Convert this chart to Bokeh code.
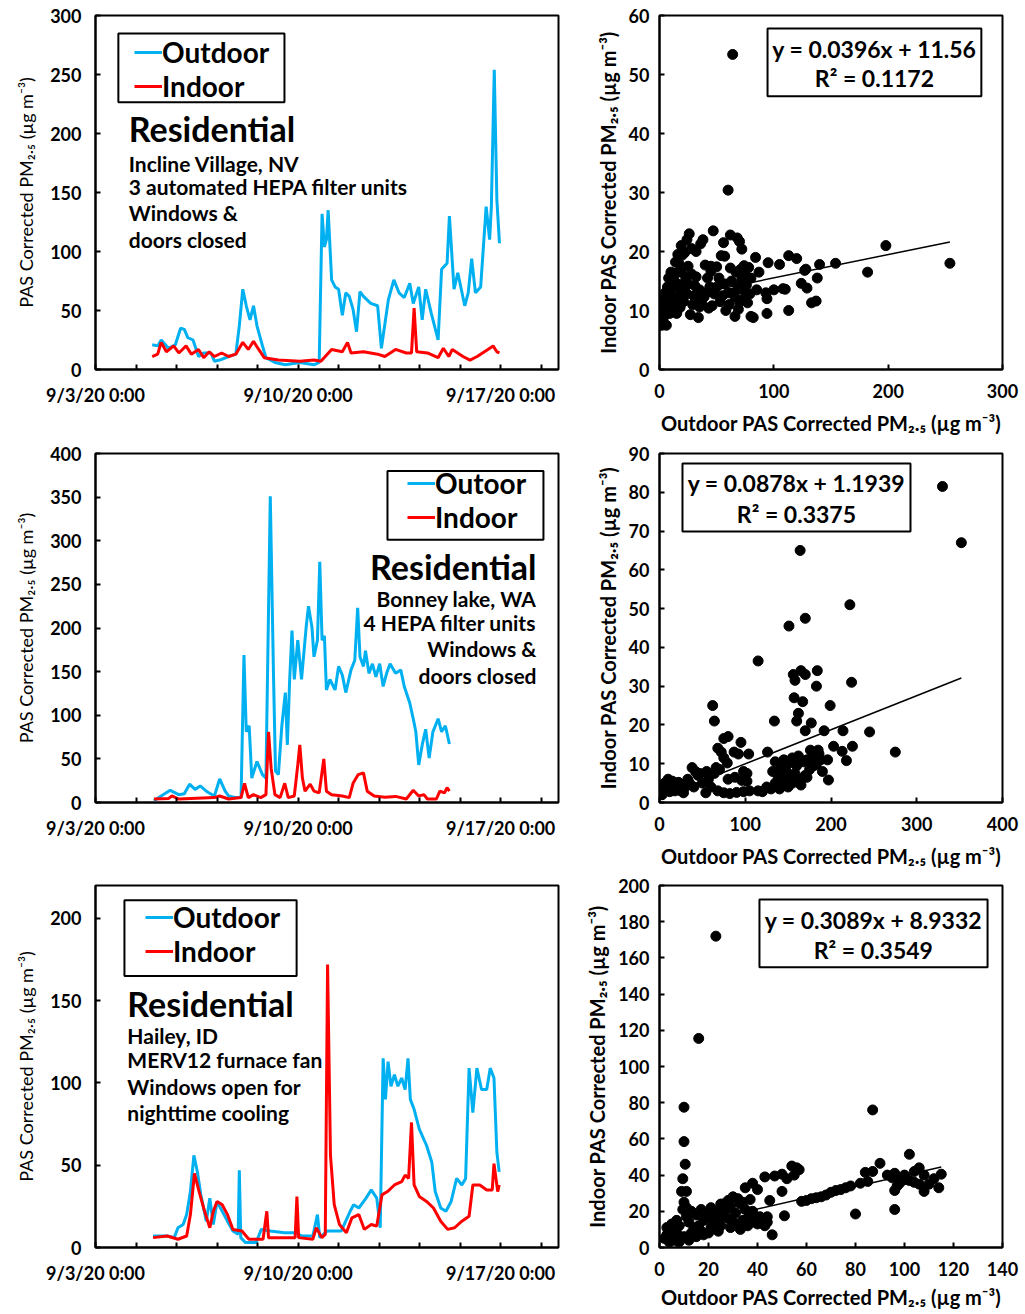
from bokeh.plotting import figure
from bokeh.layouts import column, row
from bokeh.models import FixedTicker, Range1d, Label, BoxAnnotation, Legend, LegendItem
from bokeh.embed import file_html
from bokeh.resources import INLINE

FONT = "Lato"
BLUE = "#00B0F0"
RED = "#FF0000"

# ---------------- time axis (days after 9/3/20 0:00) ----------------
date_ticks = [0, 7, 14]
date_labels = ["9/3/20 0:00", "9/10/20 0:00", "9/17/20 0:00"]
minor_date_ticks = [1.4, 2.8, 4.2, 5.6, 8.4, 9.8, 11.2, 12.6, 15.4]

# ---------------- Panel A: Incline Village, NV ----------------
a_out_t = [1.96, 2.15, 2.27, 2.52, 2.76, 2.94, 3.07, 3.19, 3.37, 3.56, 3.74, 3.99, 4.11, 4.29, 4.6,
           4.85, 4.97, 5.09, 5.21, 5.34, 5.46, 5.58, 5.77, 5.89, 6.2, 6.56, 7.06, 7.55, 7.73, 7.83,
           7.91, 7.98, 8.04, 8.16, 8.28, 8.4, 8.53, 8.65, 8.77, 8.9, 9.02, 9.14, 9.26, 9.51, 9.75,
           9.88, 10.12, 10.31, 10.49, 10.67, 10.86, 10.98, 11.17, 11.29, 11.41, 11.6, 11.84, 11.96, 12.15, 12.23,
           12.39, 12.52, 12.64, 12.76, 12.88, 13.0, 13.13, 13.31, 13.5, 13.62, 13.68, 13.78, 13.87, 13.96]
a_out_v = [21, 20, 25, 18, 21, 35, 34, 27, 25, 11, 14, 14, 7, 8, 11,
           13, 37, 68, 54, 42, 54, 37, 20, 10, 6, 4, 6, 4, 6, 132,
           104, 110, 135, 76, 70, 68, 46, 65, 62, 51, 32, 66, 62, 56, 54,
           18, 59, 76, 65, 61, 73, 56, 70, 42, 68, 48, 25, 85, 90, 130,
           68, 82, 68, 54, 65, 94, 65, 70, 138, 110, 138, 254, 144, 107]
a_in_t = [1.96, 2.15, 2.27, 2.45, 2.7, 2.88, 3.13, 3.31, 3.56, 3.74, 3.93, 4.11, 4.36, 4.6, 4.85,
          5.09, 5.28, 5.46, 5.64, 5.83, 6.32, 7.06, 7.55, 7.79, 8.16, 8.53, 8.71, 8.83, 9.26, 9.75,
          10.0, 10.37, 10.74, 10.92, 11.01, 11.1, 11.47, 11.84, 12.02, 12.21, 12.33, 12.7, 12.94, 13.19, 13.56,
          13.74, 13.87, 13.96]
a_in_v = [11, 13, 23, 15, 20, 14, 20, 13, 17, 10, 15, 11, 14, 11, 13,
          23, 17, 24, 17, 10, 8, 7, 8, 7, 17, 15, 23, 14, 15, 13,
          11, 17, 14, 14, 52, 15, 14, 10, 18, 11, 17, 11, 8, 11, 17,
          20, 15, 14]

# ---------------- Panel B: Bonney lake, WA ----------------
b_out_t = [2.02, 2.27, 2.58, 2.88, 3.07, 3.25, 3.44, 3.62, 3.87, 4.11, 4.29, 4.48, 4.6, 4.85, 5.03,
           5.13, 5.21, 5.31, 5.4, 5.58, 5.77, 5.89, 6.04, 6.15, 6.22, 6.32, 6.44, 6.56, 6.63, 6.71,
           6.79, 6.87, 6.99, 7.12, 7.28, 7.36, 7.48, 7.55, 7.67, 7.75, 7.83, 7.91, 7.98, 8.1, 8.28,
           8.4, 8.53, 8.65, 8.83, 8.96, 9.06, 9.14, 9.26, 9.33, 9.45, 9.57, 9.69, 9.82, 9.94, 10.06,
           10.18, 10.37, 10.55, 10.67, 10.86, 10.98, 11.07, 11.17, 11.29, 11.41, 11.53, 11.66, 11.84, 11.96, 12.09,
           12.23]
b_out_v = [2, 7.5, 14, 9, 10, 21, 15, 19, 12, 7.5, 27, 13, 7.5, 5.6, 6,
           169, 81, 88, 28, 47, 32, 28, 351, 148, 36, 32, 88, 126, 66, 141,
           197, 141, 186, 141, 201, 225, 201, 167, 186, 276, 186, 191, 129, 141, 129,
           156, 146, 126, 152, 163, 223, 167, 156, 174, 148, 159, 144, 159, 133, 148,
           159, 148, 152, 133, 114, 96, 81, 43, 66, 84, 51, 81, 96, 81, 88,
           67]
b_in_t = [2.02, 2.52, 2.64, 2.88, 3.5, 4.11, 4.29, 4.6, 5.03, 5.15, 5.28, 5.46, 5.71, 5.89, 5.98,
          6.07, 6.2, 6.38, 6.54, 6.66, 6.87, 6.99, 7.06, 7.15, 7.24, 7.42, 7.55, 7.73, 7.89, 7.98,
          8.16, 8.53, 8.77, 8.9, 9.08, 9.26, 9.39, 9.63, 10.0, 10.37, 10.74, 10.98, 11.17, 11.35, 11.47,
          11.78, 11.9, 12.06, 12.15, 12.23]
b_in_v = [4, 4.5, 7.5, 4, 5, 5.6, 7.5, 4, 5.6, 22, 5.6, 9, 5.6, 9, 81,
          39, 9, 5.6, 22, 5.6, 7.5, 43, 66, 28, 13, 21, 13, 11, 50, 13,
          9, 7.5, 5.6, 22, 32, 34, 13, 7.5, 6, 7, 4, 14, 7.5, 9, 4,
          4, 13, 11, 17, 13]

# ---------------- Panel C: Hailey, ID ----------------
c_out_t = [1.99, 2.48, 2.72, 2.85, 3.03, 3.15, 3.28, 3.4, 3.52, 3.64, 3.83, 3.95, 4.07, 4.2, 4.32,
           4.56, 4.75, 4.93, 4.97, 5.02, 5.18, 5.55, 5.73, 6.04, 6.53, 6.9, 7.14, 7.51, 7.67, 7.75,
           8.0, 8.49, 8.8, 8.92, 9.1, 9.35, 9.53, 9.72, 9.84, 9.94, 10.02, 10.11, 10.21, 10.33, 10.45,
           10.58, 10.7, 10.8, 10.88, 11.01, 11.19, 11.44, 11.62, 11.74, 11.93, 12.11, 12.29, 12.48, 12.66, 12.79,
           12.91, 13.04, 13.18, 13.34, 13.52, 13.64, 13.77, 13.87, 13.95]
c_out_v = [7, 7, 6, 12, 14, 20, 34, 56, 46, 32, 16, 30, 14, 28, 24,
           16, 10, 8, 47, 6, 3, 3, 11, 10, 9, 9, 7, 7, 20, 6,
           10, 10, 22, 26, 24, 30, 35, 30, 12, 115, 90, 113, 98, 105, 98,
           103, 96, 115, 90, 84, 72, 62, 52, 34, 24, 22, 28, 42, 38, 42,
           109, 82, 109, 96, 96, 109, 103, 58, 46]
c_in_t = [1.99, 2.48, 2.85, 3.15, 3.28, 3.42, 3.58, 3.77, 3.95, 4.07, 4.2, 4.38, 4.56, 4.75, 5.06,
          5.3, 5.79, 5.92, 5.98, 6.53, 6.9, 6.96, 7.02, 7.51, 7.63, 7.82, 7.94, 8.02, 8.12, 8.25,
          8.43, 8.67, 8.86, 9.1, 9.29, 9.53, 9.72, 9.9, 10.09, 10.33, 10.58, 10.7, 10.82, 10.92, 11.01,
          11.19, 11.44, 11.68, 11.93, 12.17, 12.41, 12.66, 12.91, 13.04, 13.28, 13.52, 13.71, 13.77, 13.9, 13.95]
c_in_v = [6, 7, 5, 7, 20, 45, 34, 22, 12, 22, 28, 26, 20, 11, 10,
          5, 5, 22, 6, 6, 6, 31, 6, 5, 12, 6, 8, 172, 56, 26,
          14, 9, 18, 20, 11, 14, 13, 32, 34, 38, 40, 44, 42, 76, 38,
          31, 28, 24, 16, 11, 12, 16, 19, 38, 38, 35, 35, 51, 34, 38]

# ---------------- Scatter data (outdoor, indoor) ----------------
s1_xy = [(64, 53.4), (60, 30.4), (198, 21), (254, 18), (182, 16.5), (154, 18), (140, 17.8), (138, 15.5),
         (137, 11.6), (133, 11.3), (129, 13.8), (127, 16.8), (128, 17), (124, 14.6), (120, 18.8), (113, 19.3),
         (113, 10), (110, 13.6), (108, 13.7), (105, 17.8), (100, 13.5), (94, 9.5), (94, 12), (93, 13),
         (95, 18.1), (87, 16.5), (84, 19), (85, 13.5), (82, 8.8), (80, 9), (79, 12.8), (78, 17.3),
         (75, 16), (72, 20.4), (70, 21.7), (68, 22.3), (62, 22.8), (56, 21.5), (54, 19.3), (47, 23.5),
         (45, 17.5), (40, 17.7), (38, 22), (42, 15.5), (36, 21.3), (32, 20), (26, 23), (28, 20.5),
         (22, 19.8), (20, 19.4), (19, 16.5), (25, 17.5), (23, 15.5), (15, 16.4), (17, 18), (34, 8.8),
         (43, 10.4), (58, 10), (61, 11), (66, 9), (70, 11.4), (73, 13.5), (50, 14), (55, 12.5),
         (48, 12.8), (30, 12.5), (27, 9.3), (33, 12), (37, 11.3), (41, 13), (44, 14), (52, 15.5),
         (57, 14.5), (63, 15), (65, 13), (67, 16.5), (69, 14), (71, 17), (74, 12), (76, 14.3),
         (60, 13), (53, 11.5), (46, 10.8), (39, 12.3), (35, 13.5), (31, 14.2), (29, 11), (24, 12.8),
         (21, 11.5), (18, 13), (16, 12), (14, 10.5), (12, 11.8), (11, 14), (10, 12.5), (9, 13.5),
         (8, 11), (7, 12.5), (6, 10), (5, 11.5), (4, 9), (3, 8), (2, 7.5), (3, 10.5),
         (5, 13), (7, 14), (9, 9.5), (12, 9.8), (15, 9.5), (18, 10.5), (20, 12), (22, 13.6),
         (25, 14.5), (13, 15), (17, 14.4), (62, 17.2), (66, 12.3), (69, 10.2), (72, 15.3), (74, 17.6),
         (77, 11.3), (80, 15.5), (57, 19.2), (50, 17.4), (45, 16.6), (35, 10.6), (28, 16.2), (32, 15.7),
         (2, 9), (1, 8.5), (4, 12), (6, 7.5), (8, 15.5), (10, 16.5), (14, 18.2), (19, 21),
         (24, 22), (16, 19.5)]
s1_fit = [0.0396, 11.56]
s1_text = ["y = 0.0396x + 11.56", "R² = 0.1172"]

s2_xy = [(330, 81.5), (352, 67), (164, 65), (222, 51), (151, 45.5), (170, 47.5), (115, 36.5), (156, 33),
         (158, 31.5), (165, 34), (170, 33), (184, 34), (183, 30), (224, 31), (62, 25), (64, 21),
         (134, 21), (160, 21), (162, 23), (167, 26), (157, 27), (177, 20.5), (170, 18.5), (199, 25),
         (192, 18.5), (214, 18.5), (245, 18.2), (275, 13), (203, 14.5), (225, 14.5), (213, 13.2), (218, 10.8),
         (196, 11), (197, 5.8), (183, 12.5), (176, 13.5), (180, 10), (126, 13), (104, 12.5), (95, 15.5),
         (87, 13), (75, 16.5), (80, 17), (68, 14), (72, 13), (75, 11.5), (79, 10.2), (92, 12.5),
         (98, 8), (102, 7.5), (66, 9), (64, 7.5), (70, 8.5), (80, 6), (88, 6.5), (96, 5.7),
         (68, 3), (75, 2.5), (82, 2.3), (90, 2.6), (98, 2.8), (105, 3), (115, 3), (120, 2.8),
         (125, 4), (102, 5.5), (54, 2.5), (47, 7.5), (42, 8), (38, 9), (45, 7), (35, 5),
         (30, 4), (25, 3), (20, 4), (15, 5.5), (10, 6), (8, 4.5), (5, 3), (3, 2),
         (12, 2.8), (18, 3), (22, 5.2), (28, 2.5), (33, 6), (40, 4), (50, 5), (57, 6),
         (60, 4), (55, 8), (130, 3.5), (135, 5), (138, 7), (140, 9), (142, 6), (145, 4.5),
         (148, 8), (150, 10), (152, 6.5), (155, 5), (158, 7.5), (160, 9.5), (162, 12), (165, 6),
         (168, 10.5), (170, 7), (172, 11), (175, 8.5), (178, 11.5), (180, 9.5), (183, 10), (186, 12.5),
         (188, 11), (190, 8), (185, 13.5), (150, 4), (140, 3.5), (132, 8), (135, 10.5), (145, 11),
         (155, 11.5), (165, 4.5), (160, 5.5), (172, 6.5), (1, 2), (2, 4), (6, 5), (13, 4)]
s2_fit = [0.0878, 1.1939]
s2_text = ["y = 0.0878x + 1.1939", "R² = 0.3375"]

s3_xy = [(23, 172), (16, 115.5), (10, 77.5), (87, 76), (10, 58.5), (10.5, 46), (9.5, 38), (9, 31),
         (11, 31), (10, 25), (9.5, 21), (11, 22), (102, 51.5), (90, 46.5), (87, 42), (84, 41.5),
         (85, 36.5), (80, 18.5), (96, 21), (96, 31.5), (97, 34), (93, 40), (96, 41), (98, 38),
         (100, 40), (102, 37), (104, 42), (106, 44), (108, 40), (110, 35), (112, 38), (114, 33),
         (115, 40.5), (108, 31), (104, 36), (100, 37.5), (98, 35.5), (95, 38.5), (106, 35), (56, 44),
         (54, 45), (52, 38), (55, 40), (57, 43), (50, 40.5), (47, 39.5), (43, 39), (38, 35.5),
         (35, 33), (40, 32), (46, 7), (51, 17.5), (50, 31), (45, 26), (37, 26.5), (30, 28),
         (28, 26), (26, 24), (32, 27), (34, 25), (58, 25.5), (60, 26), (62, 27), (64, 27.5),
         (66, 28), (68, 29), (70, 30.5), (72, 31.5), (74, 32), (76, 33), (78, 34), (82, 35.5),
         (2, 5), (3, 7), (4, 9), (5, 6), (6, 10), (7, 8), (8, 12), (9, 5),
         (3, 11), (5, 13), (7, 15), (12, 14), (14, 10), (16, 12), (18, 15), (20, 17),
         (22, 13), (24, 15), (26, 18), (28, 16), (30, 14), (32, 13), (34, 15), (36, 16),
         (38, 14), (40, 13), (42, 15), (44, 14), (41, 17), (36, 12), (31, 19), (27, 21),
         (23, 20), (19, 19), (15, 18), (11, 17), (13, 8), (17, 9), (21, 11), (25, 12),
         (29, 11), (33, 10), (6, 4), (10, 6), (15, 6), (20, 8), (4, 3), (8, 3),
         (12, 4), (18, 7), (24, 9), (35, 21), (38, 20), (21, 22), (17, 21), (13, 20),
         (25, 24), (29, 23), (33, 24), (22, 16), (44, 17), (43, 12), (39, 17)]
s3_fit = [0.3089, 8.9332]
s3_text = ["y = 0.3089x + 8.9332", "R² = 0.3549"]

TS_YLABEL = "PAS Corrected PM₂.₅ (µg m⁻³)"
SC_YLABEL = "Indoor PAS Corrected PM₂.₅ (µg m⁻³)"
SC_XLABEL = "Outdoor PAS Corrected PM₂.₅ (µg m⁻³)"


def base_fig(w, h, xr, yr, bl, br, bt, bb):
    p = figure(width=w, height=h, x_range=Range1d(*xr), y_range=Range1d(*yr),
               output_backend="svg", toolbar_location=None,
               min_border_left=bl, min_border_right=br, min_border_top=bt, min_border_bottom=bb)
    p.xgrid.visible = False
    p.ygrid.visible = False
    p.outline_line_color = "black"
    p.outline_line_width = 2
    p.outline_line_alpha = 1
    p.background_fill_color = "white"
    p.border_fill_color = "white"
    for ax in (p.xaxis[0], p.yaxis[0]):
        ax.axis_line_color = "black"
        ax.axis_line_width = 2
        ax.major_tick_line_color = "black"
        ax.major_tick_line_width = 2
        ax.major_tick_in = 5
        ax.major_tick_out = 0
        ax.minor_tick_line_color = "black"
        ax.minor_tick_line_width = 2
        ax.minor_tick_in = 0
        ax.minor_tick_out = 0
        ax.major_label_text_font = FONT
        ax.major_label_text_font_style = "bold"
        ax.major_label_text_font_size = "18px"
        ax.major_label_text_color = "black"
        ax.axis_label_text_font = FONT
        ax.axis_label_text_color = "black"
    return p


def ts_fig(h, ymax, yticks, bt, bb, ot, ov, it, iv, legend_labels, legend_loc, legend_box,
           texts, text_align, tx):
    p = base_fig(580, h, (0, 16), (0, ymax), 95, 22, bt, bb)
    p.xaxis.ticker = FixedTicker(ticks=date_ticks, minor_ticks=minor_date_ticks)
    p.xaxis.major_label_overrides = dict(zip(date_ticks, date_labels))
    p.xaxis.minor_tick_in = 5
    p.xaxis.major_label_standoff = 14
    p.yaxis.ticker = FixedTicker(ticks=yticks)
    p.yaxis.major_label_standoff = 14
    p.yaxis.axis_label = TS_YLABEL
    p.yaxis.axis_label_text_font_style = "normal"
    p.yaxis.axis_label_text_font_size = "18px"
    p.yaxis.axis_label_standoff = 10
    r_out = p.line(ot, ov, line_color=BLUE, line_width=3)
    r_in = p.line(it, iv, line_color=RED, line_width=3)
    # legend frame (white box with black border)
    p.add_layout(BoxAnnotation(left=legend_box[0], right=legend_box[1], bottom=legend_box[2],
                               top=legend_box[3], fill_color="white", fill_alpha=1,
                               line_color="black", line_width=2, line_alpha=1))
    leg = Legend(items=[LegendItem(label=legend_labels[0], renderers=[r_out]),
                        LegendItem(label=legend_labels[1], renderers=[r_in])],
                 location=legend_loc)
    leg.border_line_alpha = 0
    leg.background_fill_alpha = 0
    leg.label_text_font = FONT
    leg.label_text_font_style = "bold"
    leg.label_text_font_size = "28px"
    leg.label_text_color = "black"
    leg.glyph_width = 28
    leg.glyph_height = 30
    leg.label_height = 30
    leg.label_standoff = 0
    leg.spacing = 0
    leg.padding = 0
    leg.margin = 0
    p.add_layout(leg)
    for i, (txt, yv) in enumerate(texts):
        p.add_layout(Label(x=tx, y=yv, text=txt, text_font=FONT, text_font_style="bold",
                           text_font_size="34px" if i == 0 else "21px", text_color="black",
                           text_align=text_align, text_baseline="middle"))
    return p


def sc_fig(h, xmax, xticks, ymax, yticks, bt, bb, pts, fit, eq_text, box, eq_x, eq_y, xl_standoff, xt_standoff):
    p = base_fig(445, h, (0, xmax), (0, ymax), 79, 23, bt, bb)
    p.xaxis.ticker = FixedTicker(ticks=xticks)
    p.yaxis.ticker = FixedTicker(ticks=yticks)
    p.xaxis.major_label_standoff = xt_standoff
    p.yaxis.major_label_standoff = 10
    p.xaxis.axis_label = SC_XLABEL
    p.yaxis.axis_label = SC_YLABEL
    for ax in (p.xaxis[0], p.yaxis[0]):
        ax.axis_label_text_font_style = "bold"
        ax.axis_label_text_font_size = "20px"
    p.xaxis.axis_label_standoff = xl_standoff
    p.yaxis.axis_label_standoff = 6
    xs = [a for a, b in pts]
    ys = [b for a, b in pts]
    p.scatter(xs, ys, size=10, fill_color="black", line_color="black")
    tx = [min(xs), max(xs)]
    ty = [fit[0] * v + fit[1] for v in tx]
    p.line(tx, ty, line_color="black", line_width=1.5)
    p.add_layout(BoxAnnotation(left=box[0], right=box[1], bottom=box[2], top=box[3],
                               fill_color="white", fill_alpha=1, line_color="black", line_width=2,
                               line_alpha=1))
    for txt, yv in zip(eq_text, eq_y):
        p.add_layout(Label(x=eq_x, y=yv, text=txt, text_font=FONT, text_font_style="bold",
                           text_font_size="23px", text_color="black", text_align="center",
                           text_baseline="middle"))
    return p


p1 = ts_fig(440, 300, [0, 50, 100, 150, 200, 250, 300], 15, 70, a_out_t, a_out_v, a_in_t, a_in_v,
            ["Outdoor", "Indoor"], (39, 266), (0.79, 6.53, 226.5, 284.8),
            [("Residential", 204), ("Incline Village, NV", 175), ("3 automated HEPA filter units", 155),
             ("Windows &", 133), ("doors closed", 110)], "left", 1.15)
p2 = sc_fig(440, 300, [0, 100, 200, 300], 60, [0, 10, 20, 30, 40, 50, 60], 14, 71, s1_xy, s1_fit, s1_text,
            (94.5, 281.5, 46.3, 57.8), 188, (54.4, 49.4), 10, 14)

p3 = ts_fig(430, 400, [0, 50, 100, 150, 200, 250, 300, 350, 400], 9, 65, b_out_t, b_out_v, b_in_t, b_in_v,
            ["Outoor", "Indoor"], (312, 268), (10.09, 15.48, 301.1, 379.8),
            [("Residential", 270), ("Bonney lake, WA", 234), ("4 HEPA filter units", 206),
             ("Windows &", 176), ("doors closed", 146)], "right", 15.24)
p4 = sc_fig(430, 400, [0, 100, 200, 300, 400], 90, [0, 10, 20, 30, 40, 50, 60, 70, 80, 90], 13, 63,
            s2_xy, s2_fit, s2_text, (26.8, 292.7, 69.9, 87.4), 159.7, (82.4, 74.5), 10, 14)

p5 = ts_fig(444, 220, [0, 50, 100, 150, 200], 10, 67, c_out_t, c_out_v, c_in_t, c_in_v,
            ["Outdoor", "Indoor"], (50, 279), (1.0, 6.95, 165, 211),
            [("Residential", 148), ("Hailey, ID", 129), ("MERV12 furnace fan", 114),
             ("Windows open for", 98), ("nighttime cooling", 82)], "left", 1.1)
p6 = sc_fig(444, 140, [0, 20, 40, 60, 80, 100, 120, 140], 200, [0, 20, 40, 60, 80, 100, 120, 140, 160, 180, 200],
            15, 66, s3_xy, s3_fit, s3_text, (40.8, 133.9, 154.8, 192.3), 87.3, (180.7, 164.2), 6, 14)

layout = column(row(p1, p2), row(p3, p4), row(p5, p6))

open("out.html", "w").write(file_html(layout, INLINE))
